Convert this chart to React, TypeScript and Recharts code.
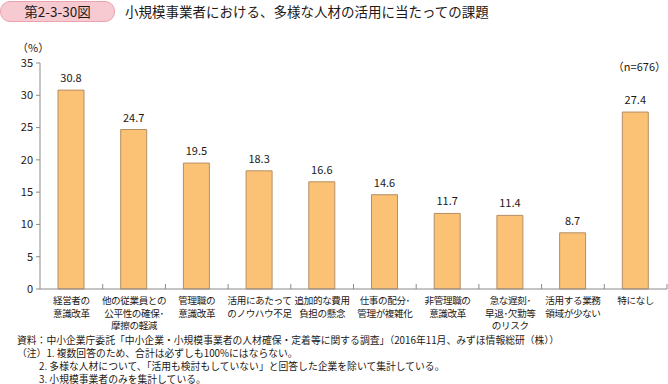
import { BarChart, Bar, XAxis, YAxis, LabelList } from 'recharts';

const categories = [
  '経営者の\n意識改革',
  '他の従業員との\n公平性の確保･\n摩擦の軽減',
  '管理職の\n意識改革',
  '活用にあたって\nのノウハウ不足',
  '追加的な費用\n負担の懸念',
  '仕事の配分･\n管理が複雑化',
  '非管理職の\n意識改革',
  '急な遅刻･\n早退･欠勤等\nのリスク',
  '活用する業務\n領域が少ない',
  '特になし',
];
const values = [30.8, 24.7, 19.5, 18.3, 16.6, 14.6, 11.7, 11.4, 8.7, 27.4];
const yTicks = [0, 5, 10, 15, 20, 25, 30, 35];

const notes = [
  '資料：中小企業庁委託「中小企業・小規模事業者の人材確保・定着等に関する調査」（2016年11月、みずほ情報総研（株））',
  '（注）1. 複数回答のため、合計は必ずしも100%にはならない。',
  '2. 多様な人材について、「活用も検討もしていない」と回答した企業を除いて集計している。',
  '3. 小規模事業者のみを集計している。',
];

const data = categories.map((name, i) => ({ name, value: values[i] }));

const FONT = '"Noto Sans CJK JP", "Noto Sans", sans-serif';
const TEXT = '#231815';
const AXIS = '#8a8a8a';
const PLOT_LEFT = 40;
const PLOT_RIGHT = 667;
const BAND = (PLOT_RIGHT - PLOT_LEFT) / categories.length;

const CatTick = (props: any) => {
  const { x, y, payload } = props;
  const lines = String(payload.value).split('\n');
  return (
    <g>
      <line x1={x + BAND / 2} x2={x + BAND / 2} y1={y} y2={y - 5} stroke={AXIS} strokeWidth={1} />
      <text x={x} y={y + 15} textAnchor="middle" fontSize={9.6} letterSpacing={-0.4} fill={TEXT} fontFamily={FONT}>
        {lines.map((l, i) => (
          <tspan key={i} x={x} dy={i === 0 ? 0 : 12.5}>
            {l}
          </tspan>
        ))}
      </text>
    </g>
  );
};

export default function App() {
  return (
    <div style={{ position: 'fixed', left: 0, top: 0, width: 668, height: 384, background: '#fff', fontFamily: FONT }}>
      <div
        style={{
          position: 'absolute', left: 0, top: 1, width: 113, height: 19, borderRadius: 10,
          background: '#f6cad0', border: '1px solid #eba3ad', color: TEXT, fontSize: 13.5,
          lineHeight: '19px', textAlign: 'center',
        }}
      >
        第2-3-30図
      </div>
      <div style={{ position: 'absolute', left: 125, top: 1, fontSize: 13.5, lineHeight: '20px', color: TEXT }}>
        小規模事業者における、多様な人材の活用に当たっての課題
      </div>
      <div style={{ position: 'absolute', left: 17, top: 41, fontSize: 11, lineHeight: '12px', color: TEXT }}>（%）</div>
      <div style={{ position: 'absolute', right: 2, top: 60, fontSize: 11, lineHeight: '12px', color: TEXT }}>（n=676）</div>

      <BarChart
        width={668}
        height={384}
        data={data}
        margin={{ top: 63, right: 668 - PLOT_RIGHT, bottom: 0, left: PLOT_LEFT - 32 }}
        barCategoryGap={0}
      >
        <YAxis
          width={32}
          domain={[0, 35]}
          ticks={yTicks}
          interval={0}
          stroke={AXIS}
          tickSize={4}
          tickMargin={3}
          tick={{ fontSize: 11, fill: TEXT, fontFamily: FONT }}
        />
        <XAxis
          dataKey="name"
          height={95}
          interval={0}
          stroke={AXIS}
          tickLine={false}
          tickSize={0}
          tickMargin={0}
          tick={<CatTick />}
        />
        <Bar dataKey="value" fill="#fbc275" stroke="#b58f63" strokeWidth={1} barSize={26} isAnimationActive={false}>
          <LabelList dataKey="value" position="top" offset={8} fontSize={11} fill={TEXT} fontFamily={FONT} />
        </Bar>
      </BarChart>

      <svg style={{ position: 'absolute', left: 0, top: 326 }} width={668} height={58}>
        <text y={17.5} fontSize={9.8} fill={TEXT} fontFamily={FONT}>
          {notes.map((n, i) => (
            <tspan key={i} x={i >= 2 ? 39 : 17} dy={i === 0 ? 0 : 13}>
              {n}
            </tspan>
          ))}
        </text>
      </svg>
    </div>
  );
}
